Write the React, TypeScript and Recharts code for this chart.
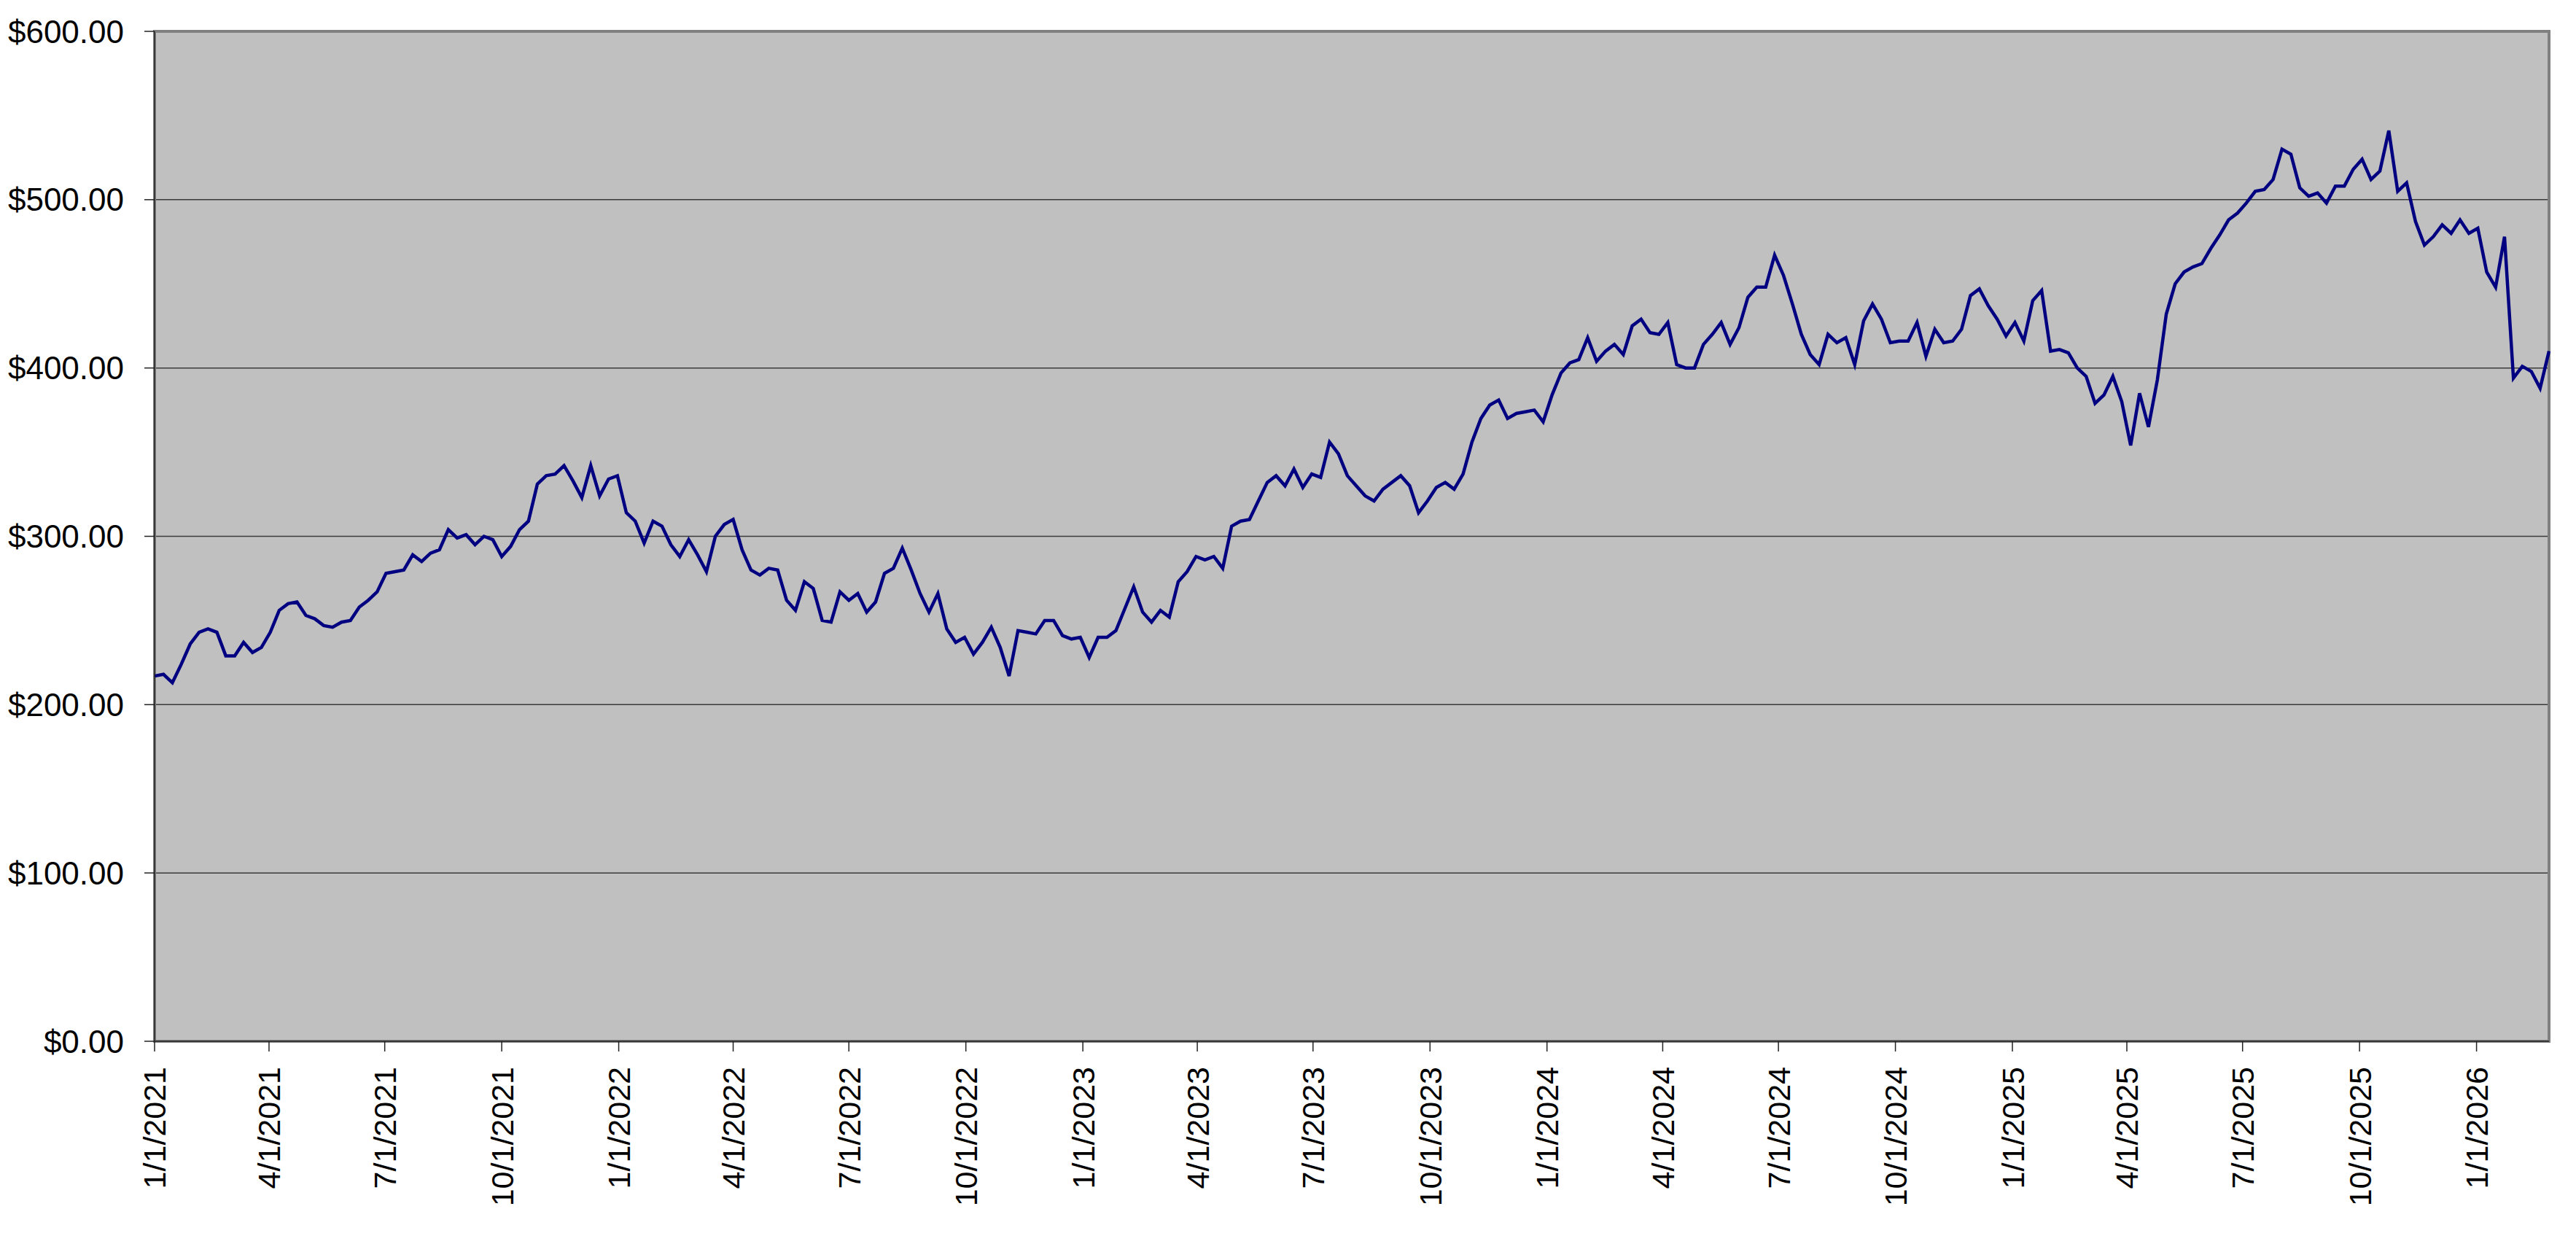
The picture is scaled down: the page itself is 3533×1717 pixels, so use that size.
import { LineChart, Line, XAxis, YAxis, CartesianGrid, ReferenceArea } from "recharts";

const DAY = 86400000;
const START = Date.UTC(2021, 0, 1);
const LAST_DAY = 1883; // 2/27/2026, last weekly close

// weekly closing prices, one per week from 1/1/2021
const closes2021 = [
  217, 218, 213, 224, 236, 243, 245, 243, 229, 229,
  237, 231, 234, 243, 256, 260, 261, 253, 251, 247,
  246, 249, 250, 258, 262, 267, 278, 279, 280, 289,
  285, 290, 292, 304, 299, 301, 295, 300, 298, 288,
  294, 304, 309, 331, 336, 337, 342, 333, 323, 342,
  324, 334, 336,
];
const closes2022 = [
  314, 309, 296, 309, 306, 295, 288, 298, 289, 279,
  300, 307, 310, 292, 280, 277, 281, 280, 262, 256,
  273, 269, 250, 249, 267, 262, 266, 255, 261, 278,
  281, 293, 280, 266, 255, 266, 245, 237, 240, 230,
  237, 246, 234, 217, 244, 243, 242, 250, 250, 241,
  239, 240,
];
const closes2023 = [
  228, 240, 240, 244, 257, 270, 255, 249, 256, 252,
  273, 279, 288, 286, 288, 281, 306, 309, 310, 321,
  332, 336, 330, 340, 329, 337, 335, 356, 349, 336,
  330, 324, 321, 328, 332, 336, 330, 314, 321, 329,
  332, 328, 337, 356, 370, 378, 381, 370, 373, 374,
  375, 368,
];
const closes2024 = [
  384, 397, 403, 405, 418, 404, 410, 414, 408, 425,
  429, 421, 420, 427, 402, 400, 400, 414, 420, 427,
  414, 424, 442, 448, 448, 467, 455, 438, 420, 408,
  402, 420, 415, 418, 402, 428, 438, 429, 415, 416,
  416, 427, 407, 423, 415, 416, 423, 443, 447, 437,
  429, 419,
];
const closes2025 = [
  427, 416, 440, 446, 410, 411, 409, 400, 395, 379,
  384, 395, 380, 354, 385, 365, 393, 432, 450, 457,
  460, 462, 471, 479, 488, 492, 498, 505, 506, 512,
  530, 527, 507, 502, 504, 498, 508, 508, 518, 524,
  512, 517, 541, 505, 510, 487, 473, 478, 485, 480,
  488, 480,
];
const closes2026 = [483, 457, 448, 478, 394, 401, 398, 388, 410];

const dateLabels = [
  "1/1/2021", "4/1/2021", "7/1/2021", "10/1/2021",
  "1/1/2022", "4/1/2022", "7/1/2022", "10/1/2022",
  "1/1/2023", "4/1/2023", "7/1/2023", "10/1/2023",
  "1/1/2024", "4/1/2024", "7/1/2024", "10/1/2024",
  "1/1/2025", "4/1/2025", "7/1/2025", "10/1/2025",
  "1/1/2026",
];
const priceTicks = [0, 100, 200, 300, 400, 500, 600];

const FONT = '"Liberation Sans", Arial, sans-serif';

const toTime = (label: string) => {
  const [m, d, y] = label.split("/").map(Number);
  return Date.UTC(y, m - 1, d);
};

const dateTicks = dateLabels.map(toTime);
const labelByTime = new Map(dateTicks.map((t, i) => [t, dateLabels[i]]));

const data = [
  ...closes2021,
  ...closes2022,
  ...closes2023,
  ...closes2024,
  ...closes2025,
  ...closes2026,
].map((close, i) => ({ t: START + i * 7 * DAY, close }));

function DateTick(props: any) {
  const { x, y, payload } = props;
  return (
    <g transform={`translate(${x},${y})`}>
      <text
        x={0}
        y={0}
        dy="0.36em"
        textAnchor="end"
        transform="rotate(-90)"
        fill="#000"
        fontSize={43}
        fontFamily={FONT}
      >
        {labelByTime.get(payload.value)}
      </text>
    </g>
  );
}

export default function App() {
  return (
    <div
      style={{
        position: "absolute",
        left: 0,
        top: 0,
        width: 3533,
        height: 1717,
        background: "#fff",
      }}
    >
      <LineChart
        width={3533}
        height={1717}
        data={data}
        margin={{ top: 43, right: 37, bottom: 0, left: 0 }}
      >
        <CartesianGrid
          vertical={false}
          fill="#C0C0C0"
          stroke="#3a3a3a"
          strokeWidth={1.5}
        />
        <XAxis
          type="number"
          dataKey="t"
          domain={[START, START + LAST_DAY * DAY]}
          ticks={dateTicks}
          interval={0}
          height={289}
          tickSize={14}
          tickMargin={21}
          axisLine={{ stroke: "#222", strokeWidth: 1.5 }}
          tickLine={{ stroke: "#222", strokeWidth: 1.5 }}
          tick={(p: any) => <DateTick {...p} />}
        />
        <YAxis
          type="number"
          domain={[0, 600]}
          ticks={priceTicks}
          interval={0}
          width={212}
          tickSize={14}
          tickMargin={28}
          axisLine={{ stroke: "#222", strokeWidth: 1.5 }}
          tickLine={{ stroke: "#222", strokeWidth: 1.5 }}
          tick={{ fill: "#000", fontSize: 44, fontFamily: FONT }}
          tickFormatter={(v: number) => `$${v.toFixed(2)}`}
        />
        <ReferenceArea
          x1={START}
          x2={START + LAST_DAY * DAY}
          y1={0}
          y2={600}
          fill="none"
          stroke="#808080"
          strokeWidth={4}
          ifOverflow="visible"
        />
        <Line
          type="linear"
          dataKey="close"
          stroke="#000080"
          strokeWidth={4.5}
          dot={false}
          isAnimationActive={false}
        />
      </LineChart>
    </div>
  );
}
